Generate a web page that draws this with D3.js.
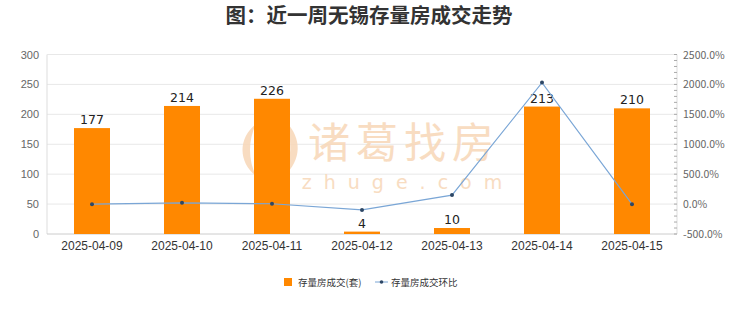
<!DOCTYPE html>
<html><head><meta charset="utf-8">
<script src="https://cdn.jsdelivr.net/npm/d3@7"></script>
<style>body{margin:0;background:#fff;}svg{display:block;font-family:"Noto Sans CJK SC","Liberation Sans",sans-serif;}</style>
</head><body><svg id="c" width="740" height="312"></svg>
<script>
const categories = ["2025-04-09","2025-04-10","2025-04-11","2025-04-12","2025-04-13","2025-04-14","2025-04-15"];
const volumes = [177,214,226,4,10,213,210];
const ratios = [-2,20.9,5.6,-98.2,150,2030,-1.4];
const leftTicks = [0,50,100,150,200,250,300];
const rightTicks = [-500,0,500,1000,1500,2000,2500];
const seriesNames = ["存量房成交(套)","存量房成交环比"];
const titleText = "图：近一周无锡存量房成交走势";

const svg = d3.select("#c");
const m = {l:47, r:677, t:54.5, b:234};
const x = d3.scaleBand().domain(categories).range([m.l,m.r]).paddingInner(0.6).paddingOuter(0.3);
const xc = d3.scaleBand().domain(categories).range([m.l,m.r]);
const y = d3.scaleLinear().domain([0,300]).range([m.b,m.t]);
const y2 = d3.scaleLinear().domain([-500,2500]).range([m.b,m.t]);

svg.append("rect").attr("width",740).attr("height",312).attr("fill","#fff");
svg.append("text").attr("x",369).attr("y",23).attr("text-anchor","middle")
  .attr("font-size",20.5).attr("font-weight","bold").attr("fill","#333").text(titleText);

// grid
svg.append("g").selectAll("line").data(leftTicks.slice(1)).join("line")
  .attr("x1",m.l).attr("x2",m.r).attr("y1",d=>y(d)).attr("y2",d=>y(d))
  .attr("stroke","#e8e8e8").attr("stroke-width",1);

// watermark
const wm = svg.append("g").attr("fill","#f8d9bb").attr("opacity",0.9);
wm.append("path").attr("d","M256,124 C238,138 238,162 256,176 C248,160 248,140 256,124 Z");
wm.append("path").attr("d","M286,122 C302,138 302,160 284,176 C292,160 292,140 286,122 Z");
wm.append("path").attr("d","M256,176 C266,180 276,180 284,176 C276,178 266,178 256,176 Z");
wm.append("text").attr("x",404).attr("y",158).attr("text-anchor","middle").attr("font-size",42)
  .attr("letter-spacing",6).text("诸葛找房");
wm.append("text").attr("x",408).attr("y",189).attr("text-anchor","middle").attr("font-size",19)
  .attr("letter-spacing",12).attr("font-family","DejaVu Sans").text("zhuge.com");

// axes lines
svg.append("line").attr("x1",m.l).attr("x2",m.l).attr("y1",m.t).attr("y2",m.b).attr("stroke","#ddd");
svg.append("line").attr("x1",m.r).attr("x2",m.r).attr("y1",m.t).attr("y2",m.b).attr("stroke","#ddd");
svg.append("line").attr("x1",m.l).attr("x2",m.r).attr("y1",m.b).attr("y2",m.b).attr("stroke","#ccc");
svg.append("line").attr("x1",m.l).attr("x2",m.r).attr("y1",m.t).attr("y2",m.t).attr("stroke","#e8e8e8");

// left labels
svg.append("g").selectAll("text").data(leftTicks).join("text")
  .attr("x",39).attr("y",d=>y(d)+4).attr("text-anchor","end").attr("font-size",11)
  .attr("fill","#666").attr("font-family","Liberation Sans").text(d=>d);
// right ticks
const minor = d3.range(-500,2501,100);
svg.append("g").selectAll("line").data(minor).join("line")
  .attr("x1",m.r-3).attr("x2",m.r).attr("y1",d=>y2(d)).attr("y2",d=>y2(d))
  .attr("stroke","#aaa").attr("stroke-width",1);
svg.append("g").selectAll("text").data(rightTicks).join("text")
  .attr("x",683).attr("y",d=>y2(d)+4).attr("font-size",10.5)
  .attr("fill","#666").text(d=>d.toFixed(1)+"%");

// x labels
svg.append("g").selectAll("text").data(categories).join("text")
  .attr("x",d=>xc(d)+xc.bandwidth()/2).attr("y",250).attr("text-anchor","middle")
  .attr("font-size",12).attr("fill","#333").attr("font-family","Liberation Sans").text(d=>d);

// bars
svg.append("g").selectAll("rect").data(volumes).join("rect")
  .attr("x",(d,i)=>x(categories[i])).attr("width",x.bandwidth())
  .attr("y",d=>y(d)).attr("height",d=>m.b-y(d)).attr("fill","#ff8800");
svg.append("g").selectAll("text").data(volumes).join("text")
  .attr("x",(d,i)=>x(categories[i])+x.bandwidth()/2).attr("y",d=>y(d)-4)
  .attr("text-anchor","middle").attr("font-size",12.5).attr("fill","#222")
  .attr("font-family","DejaVu Sans").text(d=>d);

// line
const line = d3.line().x((d,i)=>xc(categories[i])+xc.bandwidth()/2).y(d=>y2(d));
svg.append("path").datum(ratios).attr("d",line).attr("fill","none")
  .attr("stroke","#7aa6d6").attr("stroke-width",1.2);
svg.append("g").selectAll("circle").data(ratios).join("circle")
  .attr("cx",(d,i)=>xc(categories[i])+xc.bandwidth()/2).attr("cy",d=>y2(d)).attr("r",2)
  .attr("fill","#2d4766");

// legend
svg.append("rect").attr("x",284).attr("y",278).attr("width",8).attr("height",8).attr("fill","#ff8800");
svg.append("text").attr("x",298).attr("y",286).attr("font-size",9.5).attr("fill","#333").text(seriesNames[0]);
svg.append("line").attr("x1",375).attr("x2",388).attr("y1",282).attr("y2",282).attr("stroke","#7aa6d6");
svg.append("circle").attr("cx",381.5).attr("cy",282).attr("r",1.8).attr("fill","#2d4766");
svg.append("text").attr("x",391).attr("y",286).attr("font-size",9.5).attr("fill","#333").text(seriesNames[1]);
</script></body></html>
